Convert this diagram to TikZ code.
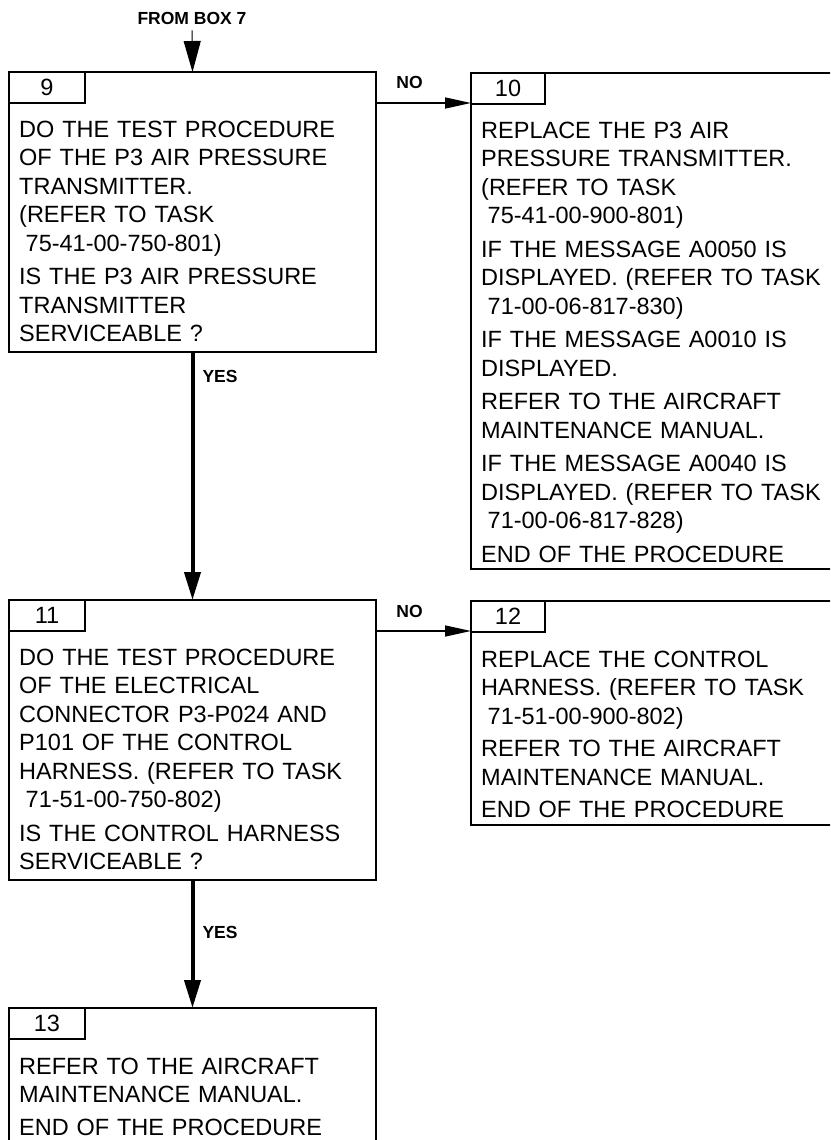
\documentclass[tikz,border=0pt]{standalone}
\usepackage{fontspec}
\setmainfont{Liberation Sans}
\usetikzlibrary{arrows.meta}

\begin{document}
\begin{tikzpicture}[x=1pt,y=-1pt]
	\tikzstyle{box}=[draw,line width=2pt,shape=rectangle,inner sep=0pt,outer sep=0pt,anchor=north west]
	\tikzstyle{tab}=[box,minimum width=76pt,minimum height=31pt,font=\fontsize{23.5}{28.5}\selectfont]
	\tikzstyle{body}=[anchor=base west,inner sep=0pt,text width=355pt,align=left,font=\fontsize{23.5}{28.5}\selectfont]
	\tikzstyle{lbl}=[inner sep=0pt,font=\fontsize{17.5}{20}\selectfont\bfseries]
	\tikzstyle{yes}=[line width=4pt,-{Triangle[length=28pt,width=16pt]}]
	\tikzstyle{no}=[line width=1.5pt,-{Triangle[length=26pt,width=11pt]}]

	\useasboundingbox (0,0) rectangle (830,1140);
	\clip (0,0) rectangle (830,1140);

	\node[lbl](from7) at (192,18){FROM BOX 7};

	\node[box,minimum width=367pt,minimum height=280pt](b9) at (9,72){};
	\node[tab](t9) at (b9.north west){9};
	\node[body](x9) at ([shift={(10,65)}]b9.north west){DO THE TEST PROCEDURE\\
		OF THE P3 AIR PRESSURE\\
		TRANSMITTER.\\
		(REFER TO TASK\\
		\hspace*{6.5pt}75-41-00-750-801)\\[5pt]
		IS THE P3 AIR PRESSURE\\
		TRANSMITTER\\
		SERVICEABLE ?};

	\node[box,minimum width=369pt,minimum height=496pt](b10) at (471,73){};
	\node[tab,minimum width=74pt](t10) at (b10.north west){10};
	\node[body](x10) at ([shift={(10,65)}]b10.north west){REPLACE THE P3 AIR\\
		PRESSURE TRANSMITTER.\\
		(REFER TO TASK\\
		\hspace*{6.5pt}75-41-00-900-801)\\[5pt]
		IF THE MESSAGE A0050 IS\\
		DISPLAYED. (REFER TO TASK\\
		\hspace*{6.5pt}71-00-06-817-830)\\[5pt]
		IF THE MESSAGE A0010 IS\\
		DISPLAYED.\\[5pt]
		REFER TO THE AIRCRAFT\\
		MAINTENANCE MANUAL.\\[5pt]
		IF THE MESSAGE A0040 IS\\
		DISPLAYED. (REFER TO TASK\\
		\hspace*{6.5pt}71-00-06-817-828)\\[5pt]
		END OF THE PROCEDURE};

	\node[box,minimum width=367pt,minimum height=280pt](b11) at (9,600){};
	\node[tab](t11) at (b11.north west){11};
	\node[body](x11) at ([shift={(10,65)}]b11.north west){DO THE TEST PROCEDURE\\
		OF THE ELECTRICAL\\
		CONNECTOR P3-P024 AND\\
		P101 OF THE CONTROL\\
		HARNESS. (REFER TO TASK\\
		\hspace*{6.5pt}71-51-00-750-802)\\[5pt]
		IS THE CONTROL HARNESS\\
		SERVICEABLE ?};

	\node[box,minimum width=369pt,minimum height=224pt](b12) at (471,601){};
	\node[tab,minimum width=74pt](t12) at (b12.north west){12};
	\node[body](x12) at ([shift={(10,66)}]b12.north west){REPLACE THE CONTROL\\
		HARNESS. (REFER TO TASK\\
		\hspace*{6.5pt}71-51-00-900-802)\\[4pt]
		REFER TO THE AIRCRAFT\\
		MAINTENANCE MANUAL.\\[4pt]
		END OF THE PROCEDURE};

	\node[box,minimum width=367pt,minimum height=152pt](b13) at (9,1008){};
	\node[tab](t13) at (b13.north west){13};
	\node[body](x13) at ([shift={(10,66)}]b13.north west){REFER TO THE AIRCRAFT\\
		MAINTENANCE MANUAL.\\[4pt]
		END OF THE PROCEDURE};

	\draw[line width=1pt,shorten <=6pt,-{Triangle[length=31pt,width=17pt]}] (from7) -- (b9.north);

	\draw[no] (b9.east |- t9.south) -- (b10.west |- t9.south) node[lbl,midway,anchor=south,xshift=-14pt,yshift=14pt]{NO};
	\draw[yes] (b9) -- (b11) node[lbl,pos=0.1,anchor=west,xshift=8pt]{YES};

	\draw[no] (b11.east |- t11.south) -- (b12.west |- t11.south) node[lbl,midway,anchor=south,xshift=-14pt,yshift=13pt]{NO};
	\draw[yes] (b11) -- (b13) node[lbl,pos=0.41,anchor=west,xshift=8pt]{YES};

\end{tikzpicture}
\end{document}
